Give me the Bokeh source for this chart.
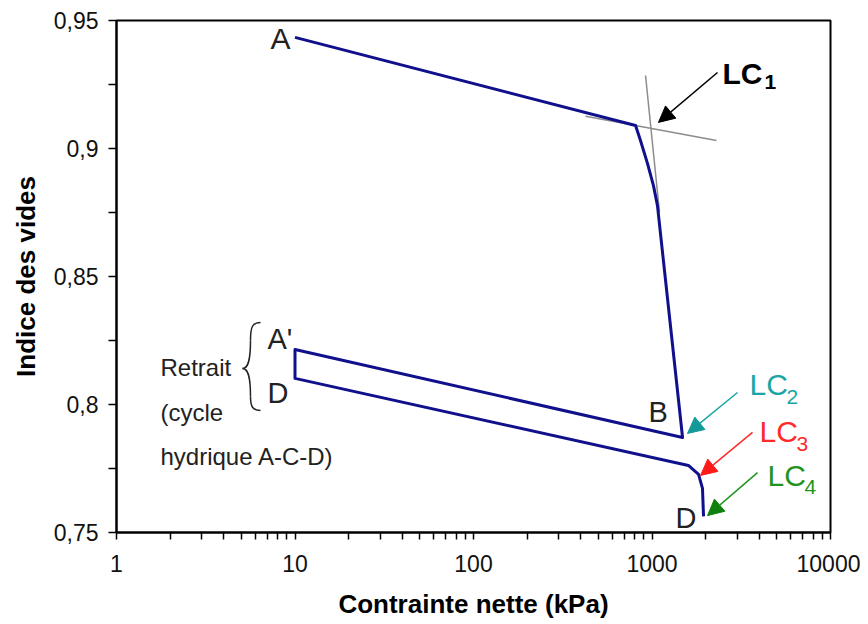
from bokeh.plotting import figure
from bokeh.models import Range1d, FixedTicker, Arrow, NormalHead, CustomJSTickFormatter
from bokeh.core.properties import value
from bokeh.embed import file_html
from bokeh.resources import INLINE

# ---- main curve: net stress (kPa) vs void ratio ----
stress_kpa = [10, 809, 862, 944, 1019, 1073, 1483, 10, 10, 1600, 1823, 1918, 1944]
void_ratio = [0.9434, 0.9090, 0.9031, 0.8941, 0.8855, 0.8777, 0.7871,
              0.8215, 0.8102, 0.7762, 0.7727, 0.7672, 0.7563]

# ---- tangent construction lines (LC1) ----
tangent1_x = [424, 2298]
tangent1_y = [0.9126, 0.9031]
tangent2_x = [920, 1102]
tangent2_y = [0.9285, 0.8750]

# ---- axis ticks ----
x_ticks = [1, 10, 100, 1000, 10000]
x_tick_labels = ["1", "10", "100", "1000", "10000"]
x_minor_mantissas = [2, 3, 4, 5, 6, 7, 8, 9]
y_ticks = [0.75, 0.8, 0.85, 0.9, 0.95]
y_tick_labels = ["0,75", "0,8", "0,85", "0,9", "0,95"]
y_minor = [0.775, 0.825, 0.875, 0.925]

# ---- LC arrows and labels ----
lc_names = ["LC", "LC", "LC", "LC"]
lc_subs = ["1", "2", "3", "4"]
lc_colors = ["#000000", "#1BA5A5", "#FF2A2A", "#1F941F"]
lc_head_colors = ["#000000", "#129A9A", "#FF1A1A", "#0E800E"]
lc_text_x = [2483, 3517, 4001, 4437]
lc_text_y = [0.9293, 0.8080, 0.7893, 0.7723]
lc_sub_x = [4266, 5670, 6450, 7146]
lc_sub_y = [0.9260, 0.8031, 0.7844, 0.7676]
arrow_x0 = [2328, 3013, 3657, 3900]
arrow_y0 = [0.9297, 0.8047, 0.7891, 0.7734]
arrow_x1 = [1087, 1581, 1870, 2047]
arrow_y1 = [0.9102, 0.7887, 0.7723, 0.7566]

# ---- point letters ----
pt_text = ["B", "A'", "D", "D"]
pt_x = [955.5, 7.015, 7.015, 1354]
pt_y = [0.7971, 0.8254, 0.8045, 0.7555]
a_text = ["A"]
a_x = [9.436]
a_y = [0.9428]

# ---- "Retrait" note ----
note_text = ["Retrait", "(cycle", "hydrique A-C-D)"]
note_x = [1.764, 1.764, 1.764]
note_y = [0.8146, 0.7969, 0.7795]

# ---- curly brace (cubic bezier pieces) ----
br_x0 = [6.409, 5.633, 5.080, 5.633]
br_y0 = [0.8320, 0.8250, 0.8141, 0.8031]
br_x1 = [5.633, 5.080, 5.633, 6.409]
br_y1 = [0.8250, 0.8141, 0.8031, 0.7977]
br_cx0 = [5.780, 5.633, 5.419, 5.633]
br_cy0 = [0.8320, 0.8164, 0.8141, 0.7992]
br_cx1 = [5.633, 5.419, 5.633, 5.780]
br_cy1 = [0.8305, 0.8141, 0.8117, 0.7977]

FONT = value("Liberation Sans")

p = figure(x_axis_type="log", x_range=Range1d(1, 10000), y_range=Range1d(0.75, 0.95),
           frame_width=714, frame_height=512,
           min_border_left=116, min_border_right=30, min_border_top=20, min_border_bottom=84,
           output_backend="svg", toolbar_location=None,
           background_fill_color="white", border_fill_color="white")

p.xgrid.visible = False
p.ygrid.visible = False
p.outline_line_color = "#000000"
p.outline_line_width = 2
p.outline_line_alpha = 1

LOOKUP = """
for (let i = 0; i < vals.length; i++) {
  if (Math.abs(vals[i] - tick) <= 1e-9 * Math.max(1, Math.abs(vals[i]))) return labs[i];
}
return "";
"""

# axes: minor ticks are drawn as unlabeled major ticks
x_all = sorted(x_ticks + [m * t for t in x_ticks[:-1] for m in x_minor_mantissas])
p.xaxis.ticker = FixedTicker(ticks=x_all)
p.xaxis.formatter = CustomJSTickFormatter(args=dict(vals=x_ticks, labs=x_tick_labels), code=LOOKUP)
p.yaxis.ticker = FixedTicker(ticks=sorted(y_ticks + y_minor))
p.yaxis.formatter = CustomJSTickFormatter(args=dict(vals=y_ticks, labs=y_tick_labels), code=LOOKUP)

for ax in (p.xaxis[0], p.yaxis[0]):
    ax.axis_line_color = "#000000"
    ax.axis_line_width = 2
    ax.major_tick_line_color = "#000000"
    ax.major_tick_line_width = 1.5
    ax.major_tick_in = 0
    ax.minor_tick_in = 0
    ax.minor_tick_out = 0
    ax.minor_tick_line_color = None
    ax.major_label_text_font = "Liberation Sans"
    ax.major_label_text_font_size = "23px"
    ax.major_label_text_color = "#111111"
    ax.axis_label_text_font = "Liberation Sans"
    ax.axis_label_text_font_size = "26px"
    ax.axis_label_text_font_style = "bold"
    ax.axis_label_text_color = "#000000"

p.xaxis.major_tick_out = 7
p.yaxis.major_tick_out = 8
p.xaxis.axis_label = "Contrainte nette (kPa)"
p.yaxis.axis_label = "Indice des vides"
p.xaxis.major_label_standoff = 15
p.yaxis.major_label_standoff = 10
p.xaxis.axis_label_standoff = 14
p.yaxis.axis_label_standoff = 10

# tangent lines
p.line(tangent1_x, tangent1_y, line_color="#8C8C8C", line_width=1.5)
p.line(tangent2_x, tangent2_y, line_color="#8C8C8C", line_width=1.5)

# main curve
p.line(stress_kpa, void_ratio, line_color="#10108C", line_width=3, line_join="round")

# brace
p.bezier(x0=br_x0, y0=br_y0, x1=br_x1, y1=br_y1, cx0=br_cx0, cy0=br_cy0,
         cx1=br_cx1, cy1=br_cy1, line_color="#222222", line_width=1.5)

# arrows
for i in range(4):
    p.add_layout(Arrow(end=NormalHead(size=16, fill_color=lc_head_colors[i],
                                      line_color=lc_head_colors[i], line_width=1),
                       x_start=arrow_x0[i], y_start=arrow_y0[i],
                       x_end=arrow_x1[i], y_end=arrow_y1[i],
                       line_color=lc_colors[i], line_width=1.5))

# LC labels
p.text(x=lc_text_x[:1], y=lc_text_y[:1], text=lc_names[:1], text_font=FONT,
       text_font_size="30px", text_font_style="bold", text_color=lc_colors[0],
       text_align="left", text_baseline="middle")
p.text(x=lc_sub_x[:1], y=lc_sub_y[:1], text=lc_subs[:1], text_font=FONT,
       text_font_size="21px", text_font_style="bold", text_color=lc_colors[0],
       text_align="left", text_baseline="middle")
for i in range(1, 4):
    p.text(x=[lc_text_x[i]], y=[lc_text_y[i]], text=[lc_names[i]], text_font=FONT,
           text_font_size="30px", text_color=lc_colors[i],
           text_align="left", text_baseline="middle")
    p.text(x=[lc_sub_x[i]], y=[lc_sub_y[i]], text=[lc_subs[i]], text_font=FONT,
           text_font_size="21px", text_color=lc_colors[i],
           text_align="left", text_baseline="middle")

# point letters
p.text(x=a_x, y=a_y, text=a_text, text_font=FONT, text_font_size="30px",
       text_color="#222222", text_align="right", text_baseline="middle")
p.text(x=pt_x, y=pt_y, text=pt_text, text_font=FONT, text_font_size="29px",
       text_color="#222222", text_align="left", text_baseline="middle")

# note
p.text(x=note_x, y=note_y, text=note_text, text_font=FONT, text_font_size="24px",
       text_color="#222222", text_align="left", text_baseline="middle")

open("out.html", "w").write(file_html(p, INLINE))
